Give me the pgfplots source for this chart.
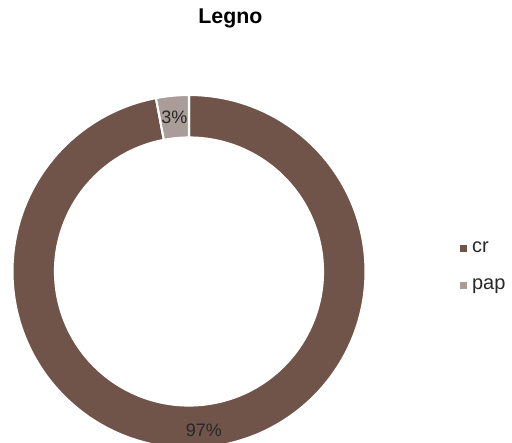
\documentclass[border=0pt]{standalone}
\usepackage{fontspec}
\setmainfont{Liberation Sans}
\usepackage{pgfplots}
\usepackage{pgfplotstable}
\pgfplotsset{compat=1.18}
\definecolor{crc}{RGB}{112,84,73}
\definecolor{papc}{RGB}{170,156,151}
\definecolor{txt}{RGB}{40,40,40}

% one row per slice: centre (x,y), start/end fraction, percent, label radius (pt)
\pgfplotstableread{
x y start end pct lr
189 171.5 0.00 0.97 97 119.5
}\crtab
\pgfplotstableread{
x y start end pct lr
189 171.5 0.97 1.00 3 116.5
}\paptab

\pgfplotsset{
  donut/.style={
    scatter, only marks, mark=text, text mark={},
    visualization depends on={\thisrow{start} \as \sv},
    visualization depends on={\thisrow{end} \as \ev},
    visualization depends on={\thisrow{pct} \as \pct},
    visualization depends on={\thisrow{lr} \as \lr},
    scatter/@pre marker code/.code={%
      \pgfmathsetmacro\aone{90-360*\sv}%
      \pgfmathsetmacro\atwo{90-360*\ev}%
      \pgfmathsetmacro\amid{(\aone+\atwo)/2}%
      \fill[fill=#1, draw=white, line width=1.6pt]
        (\aone:132.4pt) arc[start angle=\aone, end angle=\atwo, radius=132.4pt]
        -- (\atwo:100.5pt) arc[start angle=\atwo, end angle=\aone, radius=100.5pt] -- cycle;
      \node[text=txt, font=\fontsize{13.5}{16}\selectfont, inner sep=0pt] at (\amid:\lr pt) {\pgfmathprintnumber[fixed, precision=0, assume math mode=true]{\pct}\%};
    },
    scatter/@post marker code/.code={},
    legend image code/.code={\fill[#1] (0pt,-2.25pt) rectangle (4.5pt,2.25pt);},
  }
}

\begin{document}
\begin{tikzpicture}
\begin{axis}[
  scale only axis, width=384pt, height=332.25pt,
  xmin=0, xmax=512, ymin=0, ymax=443,
  hide axis, clip marker paths=true,
  title={Legno},
  title style={at={(0.450,0.930)}, anchor=base, font=\bfseries\fontsize{16}{19}\selectfont},
  legend style={draw=none, fill=none, at={(0.897,0.3988)}, anchor=west,
    font=\fontsize{15}{17}\selectfont, text=txt, inner sep=0pt,
    row sep=14.75pt,
    nodes={text height=10pt, text depth=3pt, inner sep=0pt},
    /tikz/every odd column/.style={column sep=4.5pt}},
  legend cell align=left,
]
\addplot[donut=crc] table[x=x, y=y] {\crtab};
\addlegendentry{cr}
\addplot[donut=papc] table[x=x, y=y] {\paptab};
\addlegendentry{pap}
\coordinate (SW) at (rel axis cs:0,0);
\coordinate (NE) at (rel axis cs:1,1);
\end{axis}
\pgfresetboundingbox
\useasboundingbox (SW) rectangle (NE);
\end{tikzpicture}
\end{document}
